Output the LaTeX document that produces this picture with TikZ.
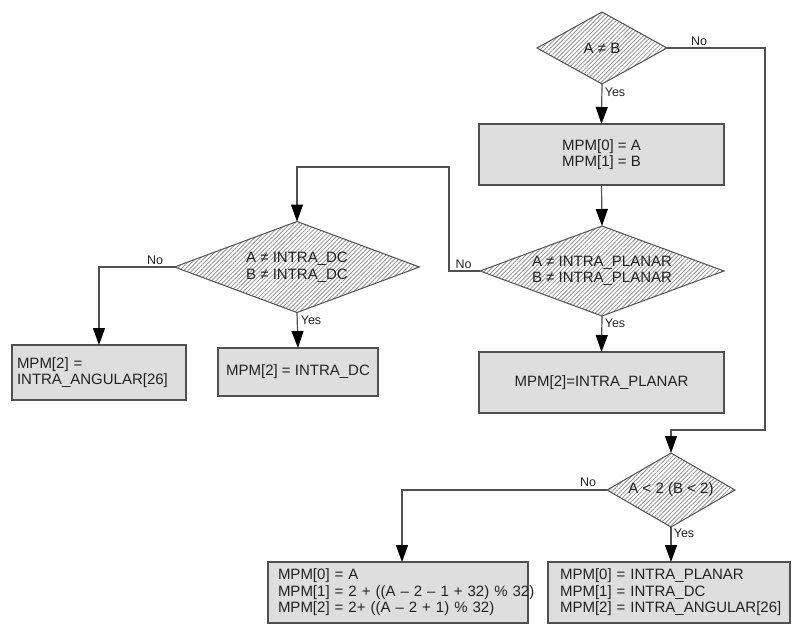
\documentclass[tikz,border=0pt]{standalone}
\usepackage{fontspec}
\setmainfont{Liberation Sans}
\usetikzlibrary{shapes.geometric,arrows.meta,patterns.meta}

\definecolor{edge}{HTML}{505050}
\definecolor{boxfill}{HTML}{DEDEDE}
\definecolor{ink}{HTML}{222222}
\definecolor{hatch}{HTML}{949494}

\tikzset{
  every node/.style={font=\fontsize{15}{16.5}\selectfont, text=ink},
  box/.style={draw=edge, fill=boxfill, line width=1.2pt, inner sep=0pt, outer sep=0pt, align=center},
  leftbox/.style={box, align=left, minimum height=#1},
  dia/.style={diamond, draw=edge, line width=1pt, inner sep=0pt, outer sep=0pt,
    pattern={Lines[angle=45, distance=3pt, line width=0.85pt]}, pattern color=hatch},
  flow/.style={draw=edge, line width=1.2pt, -{Triangle[width=12pt, length=17pt, color=black]}},
  lbl/.style={font=\fontsize{12.5}{14}\selectfont, inner sep=0pt},
}

\begin{document}
\begin{tikzpicture}[x=1pt, y=-1pt]
  \fill[white] (0,0) rectangle (792,624);
  \useasboundingbox (0,0) rectangle (792,624);

  % decisions
  \node[dia, minimum width=130pt, minimum height=72pt] (d1) at (602,48) {};
  \node at (d1) {A ≠ B};
  \node[dia, minimum width=244pt, minimum height=90pt] (d2) at (602,271) {};
  \node[align=center] at (d2) {A ≠ INTRA\_PLANAR\\B ≠ INTRA\_PLANAR};
  \node[dia, minimum width=245pt, minimum height=91pt] (d3) at (297,267) {};
  \node[align=center] at (d3) {A ≠ INTRA\_DC\\B ≠ INTRA\_DC};
  \node[dia, minimum width=128pt, minimum height=74pt] (d4) at (671,490) {};
  \node at (d4) {A < 2 (B < 2)};

  % assignments
  \node[box, minimum width=245pt, minimum height=61pt] (b1) at (601.5,154.5)
    {MPM[0] = A\\MPM[1] = B};
  \node[box, minimum width=245pt, minimum height=61pt] (b2) at (601.5,382.5)
    {MPM[2]=INTRA\_PLANAR};
  \node[leftbox=55pt, inner xsep=5pt, text width=164pt] (b3) at (99,372.5)
    {\mbox{MPM[2] =}\\\mbox{INTRA\_ANGULAR[26]}};
  \node[box, minimum width=160pt, minimum height=48pt] (b4) at (298,372)
    {MPM[2] = INTRA\_DC};
  \node[leftbox=61pt, inner xsep=10pt, text width=240pt] (b6) at (398,592.5)
    {\mbox{MPM[0] = A}\\\mbox{MPM[1] = 2 + ((A – 2 – 1 + 32) \% 32)}\\\mbox{MPM[2] = 2+ ((A – 2 + 1) \% 32)}};
  \node[leftbox=61pt, inner xsep=12pt, text width=218pt] (b7) at (669,592.5)
    {\mbox{MPM[0] = INTRA\_PLANAR}\\\mbox{MPM[1] = INTRA\_DC}\\\mbox{MPM[2] = INTRA\_ANGULAR[26]}};

  % routing points
  \coordinate (r1) at (765,48);
  \coordinate (r2) at (765,430);
  \coordinate (r3) at (449,167);

  % connectors
  \draw[flow] (d1.south) -- (b1.north);
  \draw[flow] (d1.east) -- (r1) -- (r2) -| (d4.north);
  \draw[flow] (b1.south) -- (d2.north);
  \draw[flow] (d2.south) -- (b2.north);
  \draw[flow] (d2.west) -| (r3) -| (d3.north);
  \draw[flow] (d3.south) -- (b4.north);
  \draw[flow] (d3.west) -| (b3.north);
  \draw[flow] (d4.south) -- ([xshift=2pt]b7.north);
  \draw[flow] (d4.west) -| ([xshift=4pt]b6.north);

  % branch labels
  \node[lbl] (n1) at (699,41) {No};
  \node[lbl] (y1) at (615,92) {Yes};
  \node[lbl] (n2) at (463.5,264) {No};
  \node[lbl] (y2) at (615,323) {Yes};
  \node[lbl] (n3) at (155,260) {No};
  \node[lbl] (y3) at (311,320) {Yes};
  \node[lbl] (n4) at (588,482) {No};
  \node[lbl] (y4) at (684,533) {Yes};
\end{tikzpicture}
\end{document}
